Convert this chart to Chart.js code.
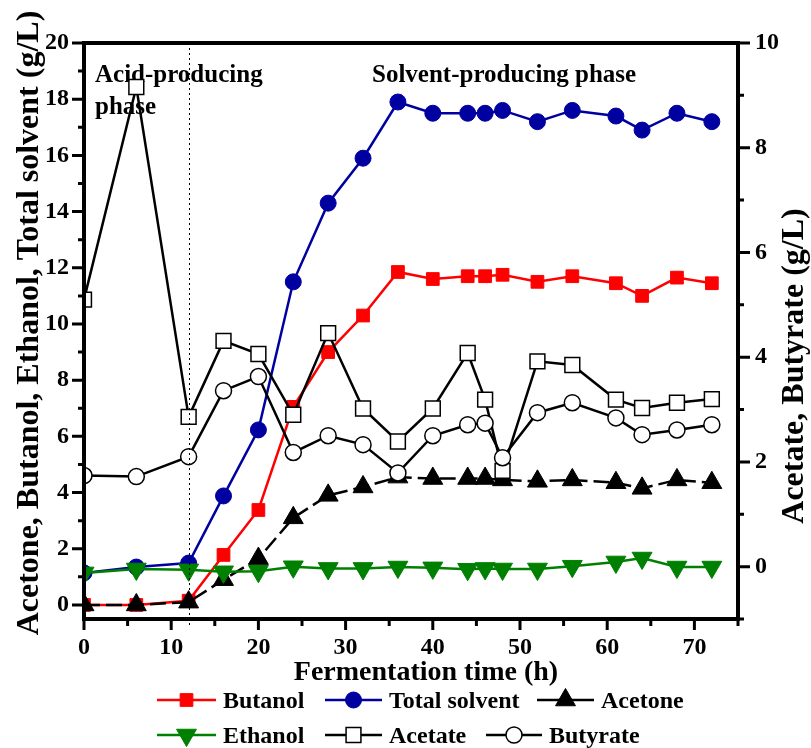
<!DOCTYPE html>
<html>
<head>
<meta charset="utf-8">
<script src="https://cdn.jsdelivr.net/npm/chart.js"></script>
<style>
  html, body { margin: 0; padding: 0; background: #fff; }
  #chartId { display: block; }
</style>
</head>
<body>
<canvas id="chartId" width="811" height="748"></canvas>
<script>
// sampling times (h)
const hours = [0, 6, 12, 16, 20, 24, 28, 32, 36, 40, 44, 46, 48, 52, 56, 61, 64, 68, 72];

// left axis series (g/L)
const butanol = [0, 0, 0.15, 1.78, 3.38, 7.05, 9.0, 10.3, 11.85, 11.6, 11.7, 11.7, 11.75, 11.5, 11.7, 11.45, 11.0, 11.65, 11.45];
const totalSolvent = [1.14, 1.35, 1.49, 3.88, 6.23, 11.5, 14.3, 15.9, 17.9, 17.5, 17.5, 17.5, 17.6, 17.2, 17.6, 17.4, 16.9, 17.5, 17.2];
const acetone = [0, 0, 0.1, 0.9, 1.65, 3.1, 3.9, 4.2, 4.55, 4.5, 4.5, 4.5, 4.45, 4.4, 4.45, 4.35, 4.15, 4.45, 4.35];
const ethanol = [1.14, 1.28, 1.25, 1.18, 1.2, 1.36, 1.3, 1.3, 1.35, 1.32, 1.27, 1.3, 1.28, 1.28, 1.38, 1.53, 1.67, 1.35, 1.35];

// right axis series (g/L)
const acetate = [5.1, 9.16, 2.86, 4.31, 4.06, 2.9, 4.46, 3.02, 2.39, 3.02, 4.08, 3.19, 1.83, 3.92, 3.85, 3.19, 3.03, 3.13, 3.2];
const butyrate = [1.74, 1.72, 2.1, 3.36, 3.63, 2.18, 2.5, 2.33, 1.79, 2.5, 2.71, 2.74, 2.08, 2.94, 3.13, 2.84, 2.52, 2.61, 2.71];

// tick labels
const timeTicks = [0, 10, 20, 30, 40, 50, 60, 70];
const leftTicks = [0, 2, 4, 6, 8, 10, 12, 14, 16, 18, 20];
const rightTicks = [0, 2, 4, 6, 8, 10];

const serif = '"Liberation Serif", "Times New Roman", serif';

function pts(vals) {
  return hours.map((h, i) => ({ x: h, y: vals[i] }));
}

const datasets = [
  { label: 'Butanol', data: pts(butanol), yAxisID: 'y', order: 6,
    borderColor: '#ff0000', backgroundColor: '#ff0000', borderWidth: 2.5,
    pointStyle: 'rect', pointRadius: 9, pointBorderWidth: 1 },
  { label: 'Total solvent', data: pts(totalSolvent), yAxisID: 'y', order: 5,
    borderColor: '#0000a0', backgroundColor: '#0000a0', borderWidth: 2.5,
    pointStyle: 'circle', pointRadius: 8, pointBorderWidth: 1 },
  { label: 'Acetone', data: pts(acetone), yAxisID: 'y', order: 4,
    borderColor: '#000', backgroundColor: '#000', borderWidth: 2.5, borderDash: [16, 6],
    pointStyle: 'triangle', pointRadius: 11.5, pointBorderWidth: 1 },
  { label: 'Ethanol', data: pts(ethanol), yAxisID: 'y', order: 3,
    borderColor: '#008000', backgroundColor: '#008000', borderWidth: 2.5,
    pointStyle: 'triangle', pointRotation: 180, pointRadius: 11.5, pointBorderWidth: 1 },
  { label: 'Acetate', data: pts(acetate), yAxisID: 'y1', order: 2,
    borderColor: '#000', backgroundColor: '#fff', borderWidth: 2.5,
    pointStyle: 'rect', pointRadius: 10.5, pointBorderWidth: 1.5, pointBorderColor: '#000' },
  { label: 'Butyrate', data: pts(butyrate), yAxisID: 'y1', order: 1,
    borderColor: '#000', backgroundColor: '#fff', borderWidth: 2.5,
    pointStyle: 'circle', pointRadius: 8, pointBorderWidth: 1.5, pointBorderColor: '#000' }
];

// legend layout: [dataset index, line start x, line end x, row y]
const legendSlots = [
  [0, 157, 216, 700], [1, 325, 382, 700], [2, 537, 594, 700],
  [3, 157, 216, 735], [4, 325, 382, 735], [5, 486, 542, 735]
];

function setTicks(values) {
  return function (scale) {
    scale.ticks = values.map(v => ({ value: v }));
  };
}

// phase texts go under the data
const phasePlugin = {
  id: 'phases',
  beforeDatasetsDraw(chart) {
    const ctx = chart.ctx;
    ctx.save();
    ctx.fillStyle = '#000';
    ctx.font = 'bold 25px ' + serif;
    ctx.textAlign = 'left';
    ctx.textBaseline = 'alphabetic';
    ctx.fillText('Acid-producing', 95, 82);
    ctx.fillText('phase', 95, 114);
    ctx.fillText('Solvent-producing phase', 372, 82);
    ctx.restore();
  }
};

// frame, tick marks, phase divider, titles and legend
const framePlugin = {
  id: 'frame',
  afterDatasetsDraw(chart) {
    const { ctx, chartArea: a, scales } = chart;
    ctx.save();

    // phase divider at 12 h
    const xd = Math.round(scales.x.getPixelForValue(12)) + 0.5;
    ctx.strokeStyle = '#000';
    ctx.lineWidth = 1;
    ctx.setLineDash([2, 3]);
    ctx.beginPath();
    ctx.moveTo(xd, a.top);
    ctx.lineTo(xd, a.bottom + 6);
    ctx.stroke();
    ctx.setLineDash([]);

    // tick marks (major + minor halfway)
    ctx.lineWidth = 3;
    ctx.beginPath();
    for (let v = 0; v <= 75; v += 5) {
      const px = scales.x.getPixelForValue(v);
      const len = timeTicks.includes(v) ? 11 : 7;
      ctx.moveTo(px, a.bottom);
      ctx.lineTo(px, a.bottom + len);
    }
    for (let v = 0; v <= 20; v += 1) {
      const py = scales.y.getPixelForValue(v);
      const len = leftTicks.includes(v) ? 12 : 6;
      ctx.moveTo(a.left, py);
      ctx.lineTo(a.left - len, py);
    }
    for (let v = -1; v <= 10; v += 1) {
      const py = scales.y1.getPixelForValue(v);
      const len = rightTicks.includes(v) ? 12 : 6;
      ctx.moveTo(a.right, py);
      ctx.lineTo(a.right + len, py);
    }
    ctx.stroke();

    // box
    ctx.lineWidth = 4;
    ctx.lineJoin = 'miter';
    ctx.beginPath();
    ctx.rect(a.left, a.top, a.right - a.left, a.bottom - a.top);
    ctx.stroke();
    ctx.restore();
  },
  afterDraw(chart) {
    const ctx = chart.ctx;
    ctx.save();
    ctx.fillStyle = '#000';

    // axis titles
    ctx.font = 'bold 28px ' + serif;
    ctx.textAlign = 'center';
    ctx.textBaseline = 'alphabetic';
    ctx.fillText('Fermentation time (h)', 426, 680);

    ctx.font = 'bold 32px ' + serif;
    ctx.save();
    ctx.translate(38, 323);
    ctx.rotate(-Math.PI / 2);
    ctx.fillText('Acetone, Butanol, Ethanol, Total solvent (g/L)', 0, 0);
    ctx.restore();
    ctx.save();
    ctx.translate(803, 366);
    ctx.rotate(-Math.PI / 2);
    ctx.fillText('Acetate, Butyrate (g/L)', 0, 0);
    ctx.restore();

    // legend
    ctx.font = 'bold 24px ' + serif;
    ctx.textAlign = 'left';
    legendSlots.forEach(([i, x0, x1, y]) => {
      const ds = chart.data.datasets[i];
      ctx.strokeStyle = ds.borderColor;
      ctx.lineWidth = 2.5;
      ctx.beginPath();
      ctx.moveTo(x0, y);
      ctx.lineTo(x1, y);
      ctx.stroke();
      ctx.fillStyle = ds.backgroundColor;
      ctx.strokeStyle = ds.pointBorderColor || ds.borderColor;
      ctx.lineWidth = ds.pointBorderWidth;
      Chart.helpers.drawPoint(ctx, {
        pointStyle: ds.pointStyle,
        radius: ds.pointRadius,
        rotation: ds.pointRotation || 0,
        borderWidth: ds.pointBorderWidth
      }, (x0 + x1) / 2, y);
      ctx.fillStyle = '#000';
      ctx.fillText(ds.label, x1 + 7, y + 8);
    });
    ctx.restore();
  }
};

const tickFont = { family: serif, size: 24, weight: 'bold' };

new Chart(document.getElementById('chartId').getContext('2d'), {
  type: 'line',
  data: { datasets: datasets },
  options: {
    responsive: false,
    devicePixelRatio: 1,
    animation: false,
    events: [],
    layout: { padding: { top: 43, left: 0, right: 0, bottom: 0 } },
    elements: { line: { tension: 0 } },
    plugins: { legend: { display: false }, tooltip: { enabled: false } },
    scales: {
      x: {
        type: 'linear', position: 'bottom', min: 0, max: 75,
        grid: { display: false, drawTicks: false },
        border: { display: false },
        afterBuildTicks: setTicks(timeTicks),
        afterFit(scale) { scale.height = 129; },
        ticks: { font: tickFont, color: '#000', padding: 14, maxRotation: 0, autoSkip: false }
      },
      y: {
        type: 'linear', position: 'left', min: -0.5, max: 20,
        grid: { display: false, drawTicks: false },
        border: { display: false },
        afterBuildTicks: setTicks(leftTicks),
        afterFit(scale) { scale.width = 84; },
        ticks: { font: tickFont, color: '#000', padding: 15 }
      },
      y1: {
        type: 'linear', position: 'right', min: -1, max: 10,
        grid: { display: false, drawTicks: false },
        border: { display: false },
        afterBuildTicks: setTicks(rightTicks),
        afterFit(scale) { scale.width = 73; },
        ticks: { font: tickFont, color: '#000', padding: 17 }
      }
    }
  },
  plugins: [phasePlugin, framePlugin]
});
</script>
</body>
</html>
